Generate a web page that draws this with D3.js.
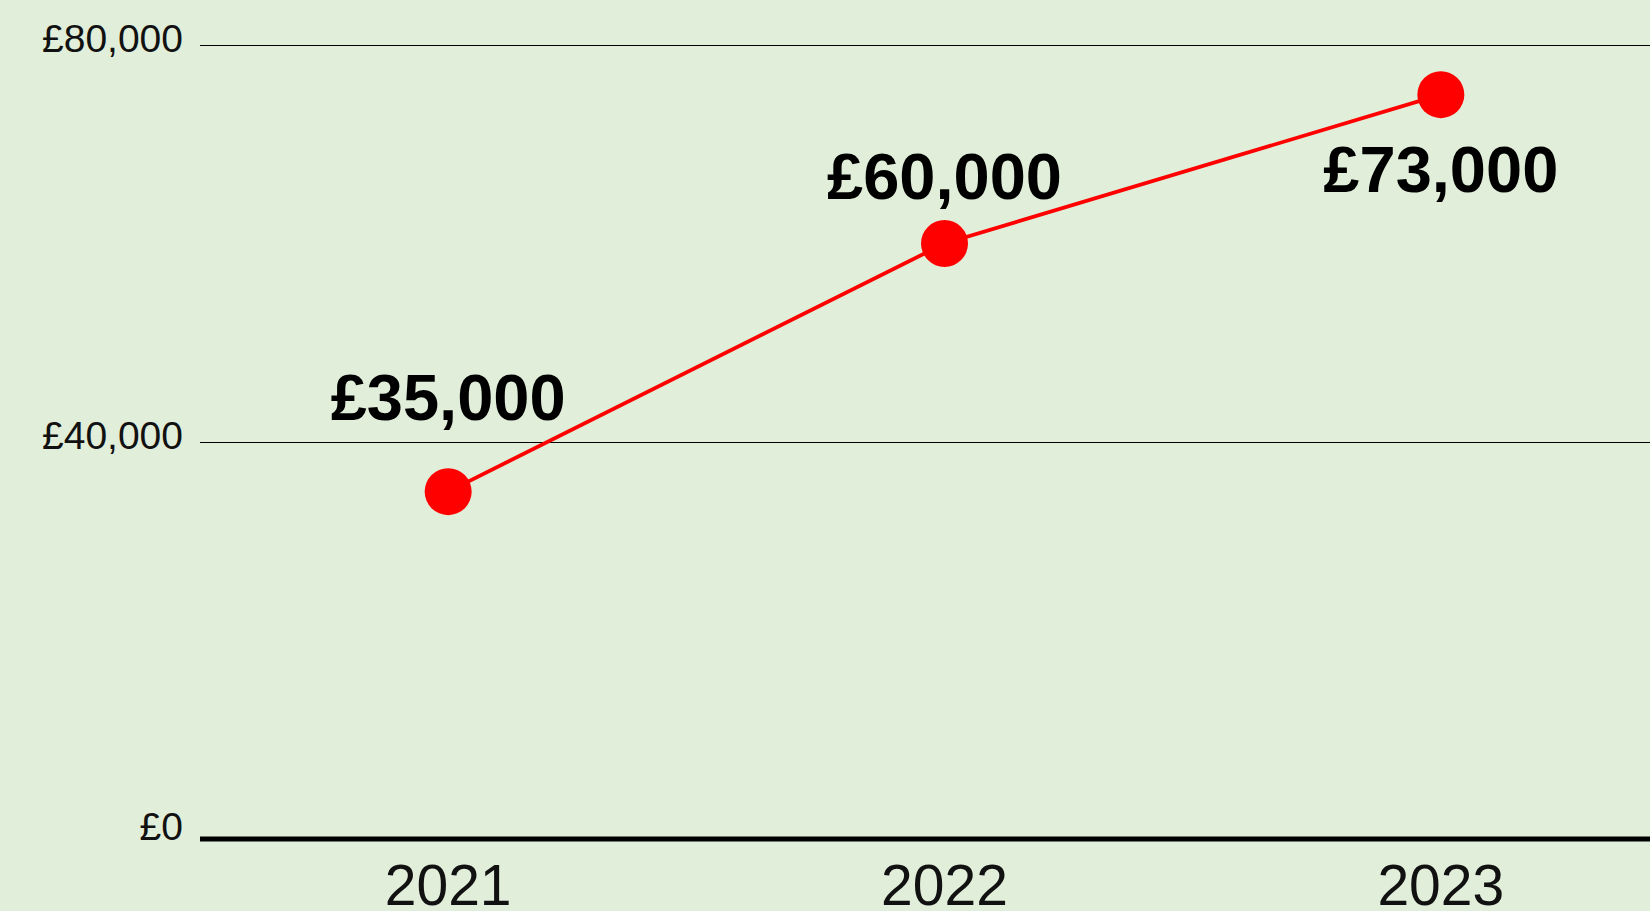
<!DOCTYPE html>
<html>
<head>
<meta charset="utf-8">
<script src="https://cdn.jsdelivr.net/npm/d3@7"></script>
<style>
  html, body { margin: 0; padding: 0; background: #e1eed9; overflow: hidden; }
  svg { display: block; }
  .tick-label { font-family: "Liberation Sans", Arial, sans-serif; fill: #111; }
  .value-label { font-family: "Liberation Sans", Arial, sans-serif; font-weight: bold; fill: #000; }
</style>
</head>
<body>
<svg id="chart" width="1650" height="911"></svg>
<script>
// data
const years = ["2021", "2022", "2023"];
const salaries = [35000, 60000, 75000];
const salary_labels = ["£35,000", "£60,000", "£73,000"];
const y_ticks = [0, 40000, 80000];
const y_tick_labels = ["£0", "£40,000", "£80,000"];

const width = 1650, height = 911;
const svg = d3.select("#chart");

svg.append("rect")
    .attr("width", width)
    .attr("height", height)
    .attr("fill", "#e1eed9");

const x = d3.scalePoint()
    .domain(years)
    .range([200, 1689])
    .padding(0.5);

const y = d3.scaleLinear()
    .domain([0, 80000])
    .range([839, 45]);

// grid lines (the zero line is the heavy baseline)
svg.selectAll(".grid")
    .data(y_ticks.filter(d => d > 0))
    .enter()
    .append("line")
    .attr("class", "grid")
    .attr("x1", 200)
    .attr("x2", width)
    .attr("y1", d => Math.round(y(d)) + 0.5)
    .attr("y2", d => Math.round(y(d)) + 0.5)
    .attr("stroke", "#000")
    .attr("stroke-width", 1);

svg.append("line")
    .attr("x1", 200)
    .attr("x2", width)
    .attr("y1", y(0))
    .attr("y2", y(0))
    .attr("stroke", "#000")
    .attr("stroke-width", 5);

// y tick labels
svg.selectAll(".y-label")
    .data(y_ticks)
    .enter()
    .append("text")
    .attr("class", "tick-label")
    .attr("x", 183)
    .attr("y", (d, i) => y(d) + (i === 0 ? 1 : 7))
    .attr("text-anchor", "end")
    .style("font-size", "39px")
    .text((d, i) => y_tick_labels[i]);

// x tick labels (cut by the bottom edge, as in the original)
svg.selectAll(".x-label")
    .data(years)
    .enter()
    .append("text")
    .attr("class", "tick-label")
    .attr("x", d => x(d))
    .attr("y", 905)
    .attr("text-anchor", "middle")
    .style("font-size", "57px")
    .text(d => d);

// the line
const line = d3.line()
    .x((d, i) => x(years[i]))
    .y(d => y(d));

svg.append("path")
    .datum(salaries)
    .attr("d", line)
    .attr("fill", "none")
    .attr("stroke", "#ff0000")
    .attr("stroke-width", 3.8);

svg.selectAll(".dot")
    .data(salaries)
    .enter()
    .append("circle")
    .attr("cx", (d, i) => x(years[i]))
    .attr("cy", d => y(d))
    .attr("r", 23.5)
    .attr("fill", "#ff0000");

// value labels, nudged off the points by hand
const label_dy = [-72, -45, 97];
svg.selectAll(".value-label")
    .data(salaries)
    .enter()
    .append("text")
    .attr("class", "value-label")
    .attr("x", (d, i) => x(years[i]))
    .attr("y", (d, i) => y(d) + label_dy[i])
    .attr("text-anchor", "middle")
    .style("font-size", "65px")
    .text((d, i) => salary_labels[i]);
</script>
</body>
</html>
